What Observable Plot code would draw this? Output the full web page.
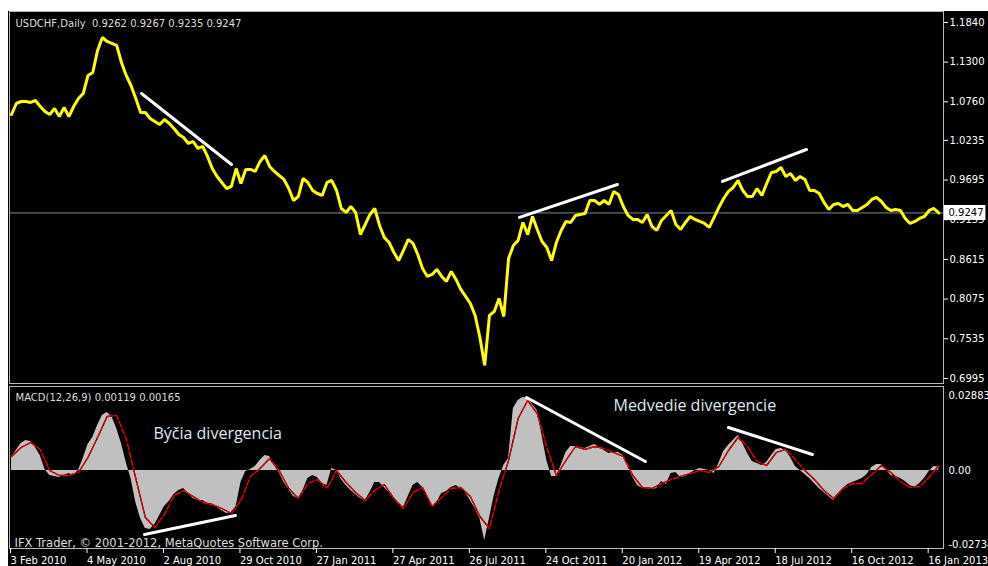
<!DOCTYPE html>
<html><head><meta charset="utf-8">
<script src="https://cdn.jsdelivr.net/npm/d3@7"></script>
<script src="https://cdn.jsdelivr.net/npm/@observablehq/plot@0.6"></script>
<style>
html,body{margin:0;padding:0;background:#fff;}
#wrap{position:relative;width:988px;height:566px;overflow:hidden;background:#fff;}
#bg{position:absolute;left:8px;top:11px;width:980px;height:555px;background:#000;}
#wrap svg{position:absolute;left:0;top:0;}
</style></head><body><div id="wrap"><div id="bg"></div></div>
<script>
// ---- data (daily bars, sampled every 4 bars for price/MACD, every 8 bars for signal) ----
const priceStep = 4;
const signalStep = 8;
const closes = [
1.0587,1.0737,1.0764,1.0764,1.0751,1.0778,1.0696,1.0628,1.0587,1.0669,
1.0560,1.0683,1.0560,1.0696,1.0805,1.0873,1.1118,1.1159,1.1459,1.1635,
1.1581,1.1554,1.1527,1.1295,1.1118,1.0982,1.0805,1.0615,1.0615,1.0533,
1.0492,1.0451,1.0519,1.0465,1.0397,1.0315,1.0274,1.0193,1.0220,1.0125,
1.0152,1.0016,0.9852,0.9744,0.9662,0.9580,0.9608,0.9852,0.9648,0.9839,
0.9839,0.9812,0.9948,1.0029,0.9880,0.9812,0.9757,0.9703,0.9580,0.9417,
0.9471,0.9716,0.9662,0.9553,0.9512,0.9485,0.9662,0.9689,0.9553,0.9308,
0.9254,0.9335,0.9254,0.8954,0.9090,0.9227,0.9308,0.9077,0.8913,0.8845,
0.8709,0.8600,0.8737,0.8886,0.8832,0.8682,0.8491,0.8383,0.8410,0.8478,
0.8383,0.8315,0.8451,0.8342,0.8206,0.8111,0.8015,0.7852,0.7552,0.7172,
0.7852,0.7906,0.8083,0.7838,0.8628,0.8805,0.8873,0.9118,0.8954,0.9199,
0.9022,0.8859,0.8777,0.8600,0.8845,0.9009,0.9131,0.9118,0.9213,0.9227,
0.9240,0.9417,0.9417,0.9363,0.9417,0.9363,0.9540,0.9499,0.9335,0.9213,
0.9159,0.9159,0.9118,0.9227,0.9063,0.9009,0.9145,0.9213,0.9281,0.9090,
0.9022,0.9118,0.9199,0.9159,0.9131,0.9104,0.9050,0.9186,0.9322,0.9444,
0.9540,0.9594,0.9689,0.9553,0.9471,0.9471,0.9580,0.9485,0.9648,0.9798,
0.9812,0.9866,0.9744,0.9784,0.9689,0.9744,0.9703,0.9553,0.9553,0.9512,
0.9390,0.9294,0.9363,0.9376,0.9335,0.9363,0.9281,0.9281,0.9322,0.9363,
0.9431,0.9458,0.9403,0.9322,0.9281,0.9294,0.9281,0.9172,0.9104,0.9131,
0.9172,0.9199,0.9281,0.9308,0.9247];

const macdMain = [
0.00454,0.00698,0.00942,0.01047,0.01012,0.00803,0.00523,0.00035,-0.00174,-0.00209,
-0.00244,-0.00174,-0.00105,-0.00174,0,0.00419,0.00907,0.01151,0.01570,0.01919,
0.02024,0.01884,0.01465,0.00942,0.00279,-0.00279,-0.01117,-0.01675,-0.02024,-0.02059,
-0.01884,-0.01570,-0.01256,-0.01082,-0.00837,-0.00698,-0.00628,-0.00803,-0.00977,-0.01047,
-0.01047,-0.01151,-0.01221,-0.01291,-0.01396,-0.01500,-0.01465,-0.01256,-0.00419,-0.00035,
0.00035,0.00140,0.00349,0.00523,0.00489,0.00174,-0.00070,-0.00419,-0.00663,-0.00907,
-0.00977,-0.00698,-0.00279,-0.00174,-0.00244,-0.00454,-0.00523,0.00070,0,-0.00314,
-0.00523,-0.00698,-0.00837,-0.00977,-0.01047,-0.00768,-0.00419,-0.00419,-0.00593,-0.00768,
-0.00977,-0.01186,-0.01291,-0.00907,-0.00523,-0.00419,-0.00593,-0.00907,-0.01256,-0.01117,
-0.00803,-0.00733,-0.00593,-0.00523,-0.00628,-0.00768,-0.01047,-0.01326,-0.01675,-0.02442,
-0.01675,-0.00872,-0.00279,0.00174,0.00419,0.02163,0.02442,0.02547,0.02512,0.02303,
0.02094,0.01221,0.00349,-0.00209,-0.00209,0.00174,0.00628,0.00837,0.00837,0.00803,
0.00768,0.00837,0.00907,0.00803,0.00698,0.00593,0.00628,0.00628,0.00523,0.00140,
-0.00244,-0.00523,-0.00628,-0.00593,-0.00663,-0.00628,-0.00384,-0.00489,-0.00105,-0.00070,
-0.00244,-0.00209,-0.00105,0,0.00070,0.00035,0,-0.00105,0.00244,0.00663,
0.00872,0.01047,0.01221,0.00942,0.00593,0.00314,0.00244,0.00174,0.00279,0.00523,
0.00733,0.00768,0.00698,0.00454,0.00140,0,-0.00140,-0.00279,-0.00454,-0.00628,
-0.00768,-0.00907,-0.01047,-0.00872,-0.00628,-0.00489,-0.00419,-0.00349,-0.00279,-0.00140,
0.00105,0.00209,0.00209,0.00035,-0.00174,-0.00209,-0.00279,-0.00384,-0.00523,-0.00593,
-0.00454,-0.00279,-0.00035,0.00140,0.00119];

const macdSignal = [
0.00489,0.00803,0.00977,0.00733,0,-0.00174,-0.00174,-0.00070,0.00454,0.01151,
0.01884,0.01919,0.01117,-0.00279,-0.01640,-0.01989,-0.01535,-0.00872,-0.00698,-0.00907,
-0.01117,-0.01186,-0.01326,-0.01500,-0.01047,-0.00209,0.00070,0.00419,0,-0.00628,
-0.00977,-0.00454,-0.00314,-0.00628,0,-0.00419,-0.00768,-0.01047,-0.00698,-0.00489,
-0.00977,-0.01326,-0.00768,-0.00593,-0.01256,-0.00942,-0.00628,-0.00593,-0.00907,-0.01605,
-0.02024,-0.00698,0.00349,0.01814,0.02442,0.01989,0.00803,-0.00174,0.00349,0.00837,
0.00733,0.00837,0.00768,0.00628,0.00489,-0.00174,-0.00593,-0.00628,-0.00454,-0.00314,
-0.00209,-0.00105,0,-0.00070,0.00140,0.00698,0.01151,0.00837,0.00314,0.00174,
0.00628,0.00733,0.00384,0,-0.00314,-0.00698,-0.00977,-0.00628,-0.00454,-0.00454,
-0.00140,0.00174,-0.00070,-0.00384,-0.00593,-0.00558,-0.00244,0.00165];

const priceTicks = [1.1840,1.1300,1.0760,1.0235,0.9695,0.9155,0.8615,0.8075,0.7535,0.6995];
const macdTop = 0.02883, macdZero = 0, macdBottom = -0.02734;
const dateTickBars = [0,64,128,192,256,320,384,448,512,576,640,704,768];
const dateLabels = ["3 Feb 2010","4 May 2010","2 Aug 2010","29 Oct 2010","27 Jan 2011","27 Apr 2011","26 Jul 2011","24 Oct 2011","20 Jan 2012","19 Apr 2012","18 Jul 2012","16 Oct 2012","16 Jan 2013"];

// trend lines drawn on the chart (bar index, value)
const priceTrendlines = [
  {id:1, bar:108.8, v:1.0873},{id:1, bar:184.1, v:0.9907},
  {id:2, bar:425.1, v:0.9186},{id:2, bar:507.1, v:0.9635},
  {id:3, bar:595.0, v:0.9676},{id:3, bar:665.3, v:1.0111}
];
const macdTrendlines = [
  {id:1, bar:111.3, v:-0.02233},{id:1, bar:187.4, v:-0.01570},
  {id:2, bar:431.0, v:0.02547},{id:2, bar:530.5, v:0.00314},
  {id:3, bar:600.0, v:0.01500},{id:3, bar:670.3, v:0.00558}
];
const notes = [
  {bar:118.8, v:0.01291, t:"Býčia divergencia"},
  {bar:503.8, v:0.02268, t:"Medvedie divergencie"}
];
const priceHeader = "USDCHF,Daily  0.9262 0.9267 0.9235 0.9247";
const macdHeader = "MACD(12,26,9) 0.00119 0.00165";
const copyright = "IFX Trader, © 2001-2012, MetaQuotes Software Corp.";

// ---- build ----
const priceData = closes.map((c,i)=>({bar:i*priceStep, close:c}));
const macdData = macdMain.map((m,i)=>({bar:i*priceStep, m}));
const sigData = macdSignal.map((s,i)=>({bar:i*signalStep, s}));
const lastClose = closes[closes.length-1];
const xDomain = [-1.7, 780];
const labelMap = new Map(dateTickBars.map((b,i)=>[b, dateLabels[i]]));
const baseStyle = {background:"transparent", color:"#ffffff", fontFamily:"DejaVu Sans", fontSize:"10px"};
const txt = "#dcdcdc";

const price = Plot.plot({
  width:988, height:566, marginTop:11, marginBottom:183, marginLeft:9, marginRight:45,
  style: baseStyle,
  x:{domain:xDomain, axis:null, label:null},
  y:{domain:[0.6926, 1.1989], axis:null, label:null},
  marks:[
    Plot.ruleY([lastClose], {stroke:"#778899", strokeWidth:1}),
    Plot.line(priceData, {x:"bar", y:"close", stroke:"#ffff00", strokeWidth:3, strokeLinejoin:"bevel"}),
    Plot.line(priceTrendlines, {x:"bar", y:"v", z:"id", stroke:"#ffffff", strokeWidth:3}),
    Plot.frame({stroke:"#b8b8b8"}),
    Plot.axisY(priceTicks, {anchor:"right", label:null, tickSize:4, tickPadding:2, tickFormat:d=>d.toFixed(4), fill:"#ffffff", stroke:"#ffffff"}),
    Plot.rect([lastClose], {x1:()=>xDomain[1]+0.8, x2:()=>xDomain[1]+35.5, y1:d=>d-0.0102, y2:d=>d+0.0102, fill:"#ffffff"}),
    Plot.text([lastClose], {y:d=>d, frameAnchor:"right", dx:5, textAnchor:"start", fill:"#000000", text:d=>d.toFixed(4)}),
    Plot.text([priceHeader], {frameAnchor:"top-left", dx:6, dy:12, lineAnchor:"middle", textAnchor:"start", fill:txt, text:d=>d})
  ]
});

const macd = Plot.plot({
  width:988, height:566, marginTop:386, marginBottom:18, marginLeft:9, marginRight:45,
  style: baseStyle,
  x:{domain:xDomain, axis:null, label:null},
  y:{domain:[-0.02722, 0.02931], axis:null, label:null},
  marks:[
    Plot.areaY(macdData, {x:"bar", y:"m", fill:"#c0c0c0"}),
    Plot.line(sigData, {x:"bar", y:"s", stroke:"#000000", strokeWidth:1.3}),
    Plot.line(sigData, {x:"bar", y:"s", stroke:"#ff0000", strokeWidth:1.3, strokeDasharray:"6,2"}),
    Plot.line(macdTrendlines, {x:"bar", y:"v", z:"id", stroke:"#ffffff", strokeWidth:3}),
    Plot.frame({stroke:"#b8b8b8"}),
    Plot.axisY([macdTop], {anchor:"right", label:null, tickSize:0, tickPadding:5, dy:8, tickFormat:d=>d.toFixed(5), fill:"#ffffff"}),
    Plot.axisY([macdZero], {anchor:"right", label:null, tickSize:0, tickPadding:5, tickFormat:d=>d.toFixed(2), fill:"#ffffff"}),
    Plot.axisY([macdBottom], {anchor:"right", label:null, tickSize:0, tickPadding:5, dy:-4, tickFormat:d=>d.toFixed(5), fill:"#ffffff"}),
    Plot.axisX(dateTickBars, {anchor:"bottom", label:null, tickSize:5, tickPadding:3, textAnchor:"start", dx:-1, tickFormat:d=>labelMap.get(d), fill:"#ffffff", stroke:"#ffffff"}),
    Plot.text(notes, {x:"bar", y:"v", text:"t", textAnchor:"start", lineAnchor:"middle", fontSize:16, fontFamily:"Open Sans", fill:"#dfe8f2"}),
    Plot.text([macdHeader], {frameAnchor:"top-left", dx:6, dy:11, lineAnchor:"middle", textAnchor:"start", fill:txt, text:d=>d}),
    Plot.text([copyright], {frameAnchor:"bottom-left", dx:5, dy:-5, lineAnchor:"middle", textAnchor:"start", fontSize:11.5, fill:txt, text:d=>d})
  ]
});

const wrap = document.getElementById("wrap");
wrap.appendChild(price);
wrap.appendChild(macd);
</script>
</body></html>
